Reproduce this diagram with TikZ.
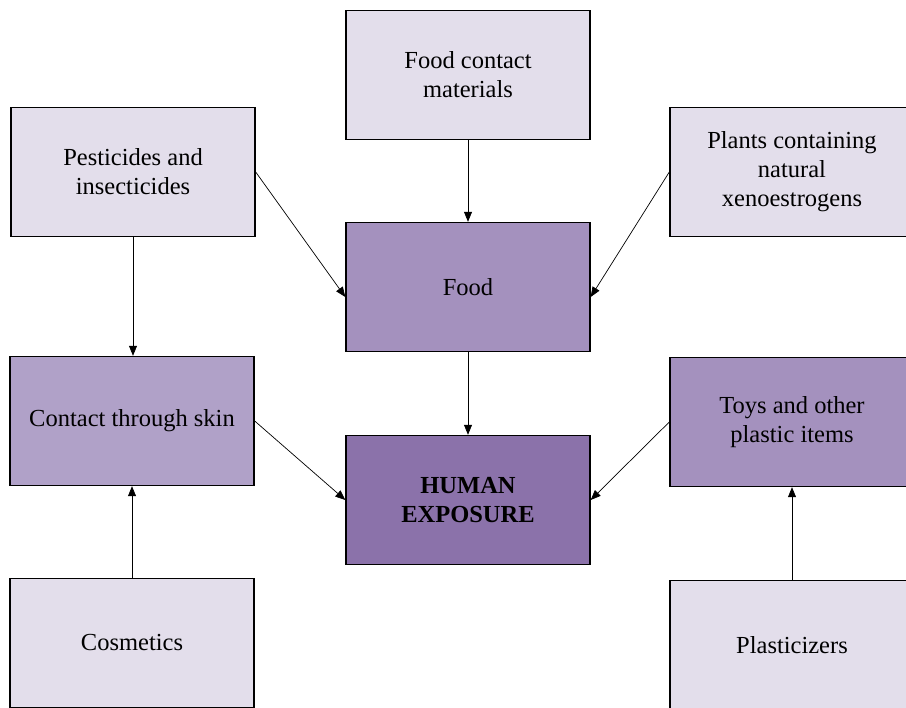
\documentclass[tikz,border=0pt]{standalone}
\usepackage{fontspec}
\setmainfont{Liberation Serif}
\usepackage{tikz}
\usetikzlibrary{positioning, arrows.meta}

\definecolor{lightlav}{HTML}{E3DEEB}
\definecolor{midlav}{HTML}{A491BE}
\definecolor{skinlav}{HTML}{B0A1C8}
\definecolor{darklav}{HTML}{8B72AA}

\begin{document}
\begin{tikzpicture}[x=1pt, y=-1pt,
    box/.style={draw, line width=1.4pt, minimum width=244pt, minimum height=129pt,
        align=center, font=\fontsize{24.5}{29}\selectfont},
    link/.style={line width=0.7pt, -{Triangle[length=10pt, width=8pt]}}]
            \useasboundingbox (0,0) rectangle (906,708);
            \clip (0,0) rectangle (906,708);

            \node [box, fill=lightlav] (FoodContact) at (468,75) {Food contact\\materials};
            \node [box, fill=lightlav] (Pesticides) at (133,172) {Pesticides and\\insecticides};
            \node [box, fill=lightlav] (Plants) at (792,172) {Plants containing\\natural\\xenoestrogens};
            \node [box, fill=midlav] (Food) at (468,287) {Food};
            \node [box, fill=skinlav] (Skin) at (132,421) {Contact through skin};
            \node [box, fill=midlav] (Toys) at (792,422) {Toys and other\\plastic items};
            \node [box, fill=darklav, font=\fontsize{24.5}{29}\selectfont\bfseries] (Human) at (468,500) {HUMAN\\EXPOSURE};
            \node [box, fill=lightlav] (Cosmetics) at (132,643) {Cosmetics};
            \node [box, fill=lightlav] (Plasticizers) at (792,645) {Plasticizers};

            % sources feeding into food and skin
            \draw [link] (FoodContact) -- (Food);
            \draw [link] (Pesticides.east) -- ([yshift=-10pt]Food.west);
            \draw [link] (Plants.west) -- ([yshift=-10pt]Food.east);
            \draw [link] (Pesticides.south) -- (Pesticides.south |- Skin.north);
            \draw [link] (Cosmetics) -- (Skin);
            \draw [link] (Plasticizers) -- (Toys);

            \draw [link] (Food) -- (Human);
            \draw [link] (Skin.east) -- (Human.west);
            \draw [link] (Toys.west) -- (Human.east);
        \end{tikzpicture}
\end{document}
